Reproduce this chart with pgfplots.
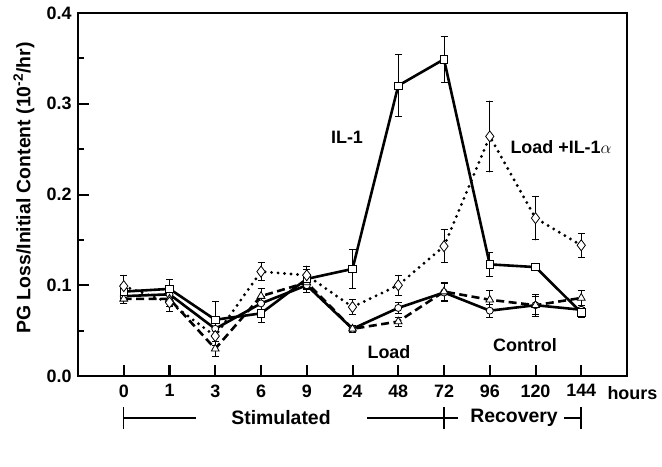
\documentclass[border=0pt]{standalone}
\usepackage{fontspec}
\setmainfont{Liberation Sans}
\usepackage{pgfplots}
\usepackage{pgfplotstable}
\pgfplotsset{compat=1.18}

\pgfplotstableread{
x y e
0 0.093 0.008
1 0.096 0.010
2 0.062 0.020
3 0.069 0.010
4 0.107 0.010
5 0.118 0.021
6 0.320 0.034
7 0.349 0.025
8 0.123 0.013
9 0.120 0.004
10 0.070 0.005
}\ilone

\pgfplotstableread{
x y e
0 0.099 0.012
1 0.081 0.010
2 0.044 0.010
3 0.115 0.010
4 0.111 0.010
5 0.076 0.008
6 0.100 0.011
7 0.143 0.018
8 0.264 0.039
9 0.174 0.024
10 0.144 0.013
}\loadil

\pgfplotstableread{
x y e
0 0.085 0.005
1 0.085 0.008
2 0.030 0.008
3 0.088 0.008
4 0.103 0.008
5 0.052 0.004
6 0.060 0.005
7 0.093 0.010
8 0.084 0.010
9 0.078 0.010
10 0.086 0.008
}\load

\pgfplotstableread{
x y e
0 0.088 0.008
1 0.090 0.008
2 0.052 0.010
3 0.080 0.008
4 0.100 0.008
5 0.052 0.003
6 0.075 0.006
7 0.092 0.010
8 0.072 0.007
9 0.078 0.012
10 0.073 0.005
}\control

\begin{document}
\begin{tikzpicture}
\path[use as bounding box] (-78bp,-91bp) rectangle (584bp,376bp);
\begin{axis}[
  at={(0,0)}, anchor=south west,
  scale only axis, width=549bp, height=363bp,
  xmin=-1, xmax=11, ymin=0, ymax=0.4,
  clip=false,
  axis line style={line width=2bp},
  xtick={0,...,10},
  xticklabels={0,1,3,6,9,24,48,72,96,120,144},
  ytick={0,0.1,0.2,0.3,0.4},
  minor y tick num=1,
  tick align=inside,
  xtick pos=bottom, ytick pos=left,
  major tick length=11bp, minor tick length=6bp,
  every tick/.style={line width=2bp, black},
  /pgf/number format/assume math mode=true,
  ticklabel style={font=\fontsize{18}{20}\selectfont\bfseries},
  xticklabel style={yshift=-5bp},
  yticklabel style={xshift=-3bp, /pgf/number format/.cd, fixed, fixed zerofill, precision=1},
  error bars/y dir=both,
  error bars/y explicit,
  error bars/error bar style={line width=0.9bp, solid},
  error bars/error mark options={rotate=90, mark size=3.5bp, line width=0.9bp, solid},
]
% Control
\addplot[black, line width=2.6bp, mark=*, mark size=3.5bp,
  mark options={solid, fill=white, line width=0.8bp}]
  table[x=x, y=y, y error=e] {\control};
% Load
\addplot[black, line width=2.6bp, dash pattern=on 8bp off 4.5bp, mark=triangle*, mark size=4.5bp,
  mark options={solid, fill=white, line width=0.8bp}]
  table[x=x, y=y, y error=e] {\load};
% IL-1
\addplot[black, line width=2.6bp, mark=square*, mark size=3.7bp,
  mark options={solid, fill=white, line width=0.8bp}]
  table[x=x, y=y, y error=e] {\ilone};
% Load + IL-1alpha
\addplot[black, line width=3.2bp, line cap=round, dash pattern=on 0bp off 6.5bp, mark=diamond*, mark size=5.5bp,
  mark options={solid, fill=white, line width=0.8bp}]
  table[x=x, y=y, y error=e] {\loadil};
\end{axis}
% y label
\node[rotate=90, font=\fontsize{19.5}{21}\selectfont\bfseries] at (-54bp,188bp)
  {PG Loss/Initial Content (10\textsuperscript{-2}/hr)};
% in-plot labels
\node[font=\fontsize{18}{20}\selectfont\bfseries] at (269bp,239bp) {IL-1};
\node[font=\fontsize{18}{20}\selectfont\bfseries] at (483bp,229bp) {Load +IL-1$\alpha$};
\node[font=\fontsize{18}{20}\selectfont\bfseries] at (311bp,24bp) {Load};
\node[font=\fontsize{18}{20}\selectfont\bfseries] at (447bp,31bp) {Control};
% hours
\node[anchor=base west, font=\fontsize{18}{20}\selectfont\bfseries] at (526bp,-23bp) {hours};
% Stimulated / Recovery bracket
\draw[line width=1.2bp] (45.75bp,-31bp) -- (45.75bp,-53bp);
\draw[line width=1.2bp] (45.75bp,-42bp) -- (118bp,-42bp);
\node[font=\fontsize{19.5}{21}\selectfont\bfseries] at (203bp,-42bp) {Stimulated};
\draw[line width=1.2bp] (289bp,-42bp) -- (380bp,-42bp);
\draw[line width=1.2bp] (366bp,-31bp) -- (366bp,-53bp);
\node[font=\fontsize{19.5}{21}\selectfont\bfseries] at (436bp,-42bp) {Recovery};
\draw[line width=1.2bp] (486bp,-42bp) -- (503bp,-42bp);
\draw[line width=1.2bp] (503bp,-31bp) -- (503bp,-53bp);
\end{tikzpicture}
\end{document}
